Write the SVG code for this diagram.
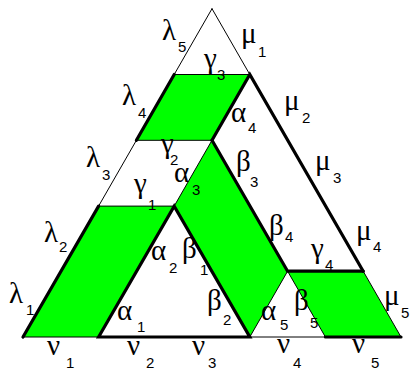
<svg xmlns="http://www.w3.org/2000/svg" width="410" height="369" viewBox="0 0 410 369">
<style>
.fill{fill:#00ff00;stroke:none}
.thin{stroke:#000;stroke-width:1;fill:none;stroke-linecap:round}
.thick{stroke:#000;stroke-width:3.2;fill:none;stroke-linecap:round}
.g{font-family:"Liberation Serif","Times New Roman",serif;font-size:29px;fill:#000}
.s{font-family:"Liberation Sans",Arial,sans-serif;font-size:15px}
</style>
<rect width="410" height="369" fill="#fff"/>
<g id="regions">
<polygon class="fill" points="23,337 98.6,337 174.2,206.1 98.6,206.1"/>
<polygon class="fill" points="174.2,74.5 249.8,74.5 212,140.3 136.4,140.3"/>
<polygon class="fill" points="212,140.3 287.6,271.2 249.8,337 174.2,206.1"/>
<polygon class="fill" points="287.6,271.2 363.2,271.2 401,337 325.4,337"/>
</g>
<g id="connectors">
<path class="thin" d="M212,8.7 L174.2,74.5 M136.4,140.3 L98.6,206.1 M212,8.7 L249.8,74.5 M363.2,271.2 L401,337"/>
<path class="thin" d="M174.2,74.5 L249.8,74.5 M136.4,140.3 L212,140.3 M98.6,206.1 L174.2,206.1 M212,140.3 L174.2,206.1"/>
<path class="thin" d="M23,337 L98.6,337 M249.8,337 L325.4,337 M249.8,337 L287.6,271.2 L325.4,337"/>
<path class="thick" d="M174.2,74.5 L136.4,140.3"/>
<path class="thick" d="M212,140.3 L249.8,74.5 L363.2,271.2"/>
<path class="thick" d="M212,140.3 L287.6,271.2 L363.2,271.2"/>
<path class="thick" d="M23,337 L98.6,206.1"/>
<path class="thick" d="M98.6,337 L174.2,206.1 L249.8,337 Z"/>
<path class="thick" d="M325.4,337 L401,337"/>
</g>
<g id="labels">
<text class="g" x="162" y="40">λ<tspan class="s" x="178" y="52">5</tspan></text>
<text class="g" x="241" y="43">μ<tspan class="s" x="258" y="57">1</tspan></text>
<text class="g" x="204" y="68">γ<tspan class="s" x="217" y="80">3</tspan></text>
<text class="g" x="122" y="105">λ<tspan class="s" x="138" y="118">4</tspan></text>
<text class="g" x="231" y="122">α<tspan class="s" x="248" y="133">4</tspan></text>
<text class="g" x="284" y="110">μ<tspan class="s" x="302" y="123">2</tspan></text>
<text class="g" x="161" y="153">γ<tspan class="s" x="170" y="165">2</tspan></text>
<text class="g" x="86" y="167">λ<tspan class="s" x="102" y="180">3</tspan></text>
<text class="g" x="174" y="182">α<tspan class="s" x="192" y="195">3</tspan></text>
<text class="g" x="236" y="171">β<tspan class="s" x="250" y="187">3</tspan></text>
<text class="g" x="315" y="170">μ<tspan class="s" x="333" y="183">3</tspan></text>
<text class="g" x="134" y="193">γ<tspan class="s" x="148" y="210">1</tspan></text>
<text class="g" x="44" y="242">λ<tspan class="s" x="59" y="252">2</tspan></text>
<text class="g" x="269" y="235">β<tspan class="s" x="285" y="242">4</tspan></text>
<text class="g" x="356" y="240">μ<tspan class="s" x="373" y="252">4</tspan></text>
<text class="g" x="151" y="260">α<tspan class="s" x="169" y="273">2</tspan></text>
<text class="g" x="182" y="258">β<tspan class="s" x="200" y="275">1</tspan></text>
<text class="g" x="311" y="258">γ<tspan class="s" x="325" y="270">4</tspan></text>
<text class="g" x="9" y="303">λ<tspan class="s" x="26" y="315">1</tspan></text>
<text class="g" x="207" y="310">β<tspan class="s" x="223" y="325">2</tspan></text>
<text class="g" x="384" y="305">μ<tspan class="s" x="401" y="318">5</tspan></text>
<text class="g" x="117" y="320">α<tspan class="s" x="137" y="332">1</tspan></text>
<text class="g" x="261" y="320">α<tspan class="s" x="280" y="330">5</tspan></text>
<text class="g" x="294" y="310">β<tspan class="s" x="310" y="328">5</tspan></text>
<text class="g" x="47" y="355">ν<tspan class="s" x="66" y="368">1</tspan></text>
<text class="g" x="127" y="355">ν<tspan class="s" x="146" y="368">2</tspan></text>
<text class="g" x="192" y="355">ν<tspan class="s" x="208" y="368">3</tspan></text>
<text class="g" x="277" y="353">ν<tspan class="s" x="293" y="368">4</tspan></text>
<text class="g" x="352" y="353">ν<tspan class="s" x="371" y="368">5</tspan></text>
</g>
</svg>
